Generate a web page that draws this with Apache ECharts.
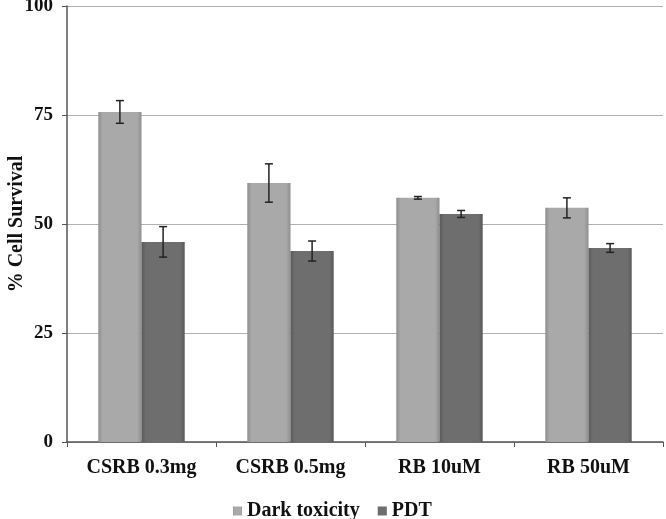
<!DOCTYPE html>
<html><head><meta charset="utf-8">
<script src="https://cdn.jsdelivr.net/npm/echarts@6/dist/echarts.min.js"></script>
<style>html,body{margin:0;padding:0;background:#fff}#c{width:666px;height:519px}</style>
</head><body><div id="c"></div>
<script>
const categories = ['CSRB 0.3mg', 'CSRB 0.5mg', 'RB 10uM', 'RB 50uM'];
const darkValues = [75.7, 59.4, 56.0, 53.7];
const darkErrors = [2.6, 4.4, 0.3, 2.3];
const pdtValues = [45.9, 43.8, 52.3, 44.5];
const pdtErrors = [3.5, 2.3, 0.8, 1.0];
const yTicks = [0, 25, 50, 75, 100];

const BAR_FRAC = 0.29;
function barGrad(c1, c2) {
  return new echarts.graphic.LinearGradient(0, 0, 1, 0, [
    {offset: 0, color: c2}, {offset: 0.1, color: c1}, {offset: 0.9, color: c1}, {offset: 1, color: c2}
  ]);
}
function errSeries(vals, errs, side) {
  return {
    type: 'custom', z: 10, silent: true,
    data: vals.map((v, i) => [i, v, errs[i]]),
    renderItem: function (params, api) {
      const i = api.value(0), v = api.value(1), e = api.value(2);
      const band = api.size([1, 0])[0];
      const off = side * band * BAR_FRAC / 2;
      const top = api.coord([i, v + e]);
      const bot = api.coord([i, v - e]);
      const x = top[0] + off, cw = 4;
      const st = {stroke: '#222', lineWidth: 1.5};
      return {type: 'group', children: [
        {type: 'line', shape: {x1: x, y1: top[1], x2: x, y2: bot[1]}, style: st},
        {type: 'line', shape: {x1: x - cw, y1: top[1], x2: x + cw, y2: top[1]}, style: st},
        {type: 'line', shape: {x1: x - cw, y1: bot[1], x2: x + cw, y2: bot[1]}, style: st}
      ]};
    }
  };
}
const font = '"Liberation Serif", "Times New Roman", serif';
const chart = echarts.init(document.getElementById('c'));
chart.setOption({
  animation: false,
  textStyle: {fontFamily: font},
  grid: {left: 67, right: 3, top: 6, bottom: 77, containLabel: false, outerBoundsMode: 'none'},
  legend: {
    top: 496, left: 228, itemWidth: 9, itemHeight: 9, itemGap: 18,
    icon: 'rect',
    textStyle: {fontFamily: font, fontWeight: 'bold', fontSize: 20, color: '#111'},
    data: ['Dark toxicity', 'PDT']
  },
  xAxis: {
    type: 'category', data: categories,
    axisLine: {lineStyle: {color: '#555', width: 1.5}},
    axisTick: {show: true, length: 5, lineStyle: {color: '#555'}},
    axisLabel: {fontFamily: font, fontWeight: 'bold', fontSize: 20, color: '#111', margin: 16}
  },
  yAxis: {
    type: 'value', min: 0, max: 100, interval: 25,
    name: '% Cell Survival', nameLocation: 'middle', nameGap: 40, nameRotate: 90,
    nameMoveOverlap: false,
    nameTextStyle: {fontFamily: font, fontWeight: 'bold', fontSize: 20, color: '#111'},
    axisLine: {show: true, lineStyle: {color: '#555', width: 1.5}},
    axisTick: {show: true, length: 5, lineStyle: {color: '#555'}},
    axisLabel: {fontFamily: font, fontWeight: 'bold', fontSize: 19, color: '#111', margin: 14,
      formatter: v => yTicks.includes(v) ? String(v) : ''},
    splitLine: {lineStyle: {color: '#b0b0b0', width: 1.2}}
  },
  series: [
    {name: 'Dark toxicity', type: 'bar', data: darkValues, barWidth: (BAR_FRAC * 100) + '%', barGap: '0%',
      itemStyle: {color: barGrad('#a9a9a9', '#8e8e8e')}},
    {name: 'PDT', type: 'bar', data: pdtValues, barWidth: (BAR_FRAC * 100) + '%', barGap: '0%',
      itemStyle: {color: barGrad('#6e6e6e', '#595959')}},
    errSeries(darkValues, darkErrors, -1),
    errSeries(pdtValues, pdtErrors, 1)
  ]
});
</script></body></html>
